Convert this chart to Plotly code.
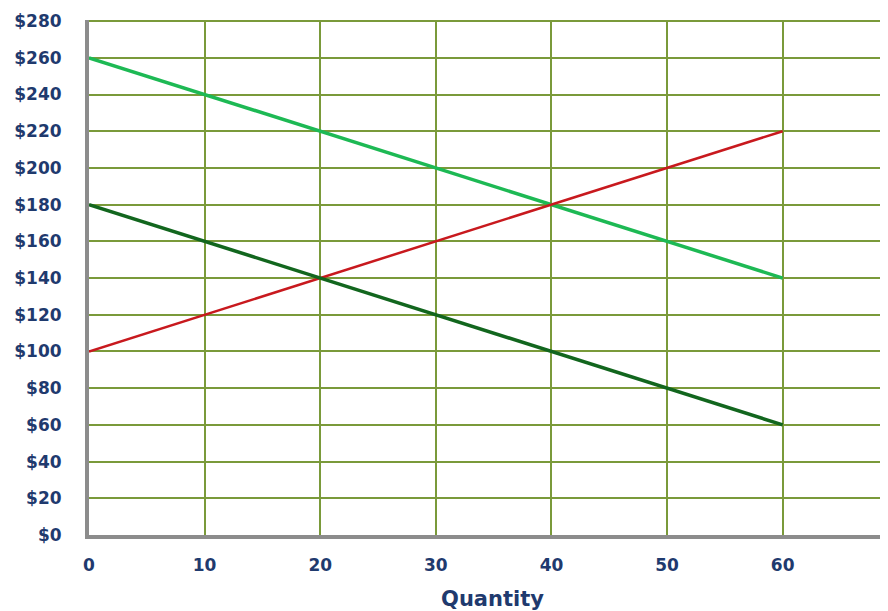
import plotly.graph_objects as go

quantity = [0, 60]
light_green = [260, 140]
red = [100, 220]
dark_green = [180, 60]

x_ticks = [0, 10, 20, 30, 40, 50, 60]
y_ticks = list(range(0, 281, 20))
y_labels = [f"${v}" for v in y_ticks]

navy = "#1F3A6E"
grid = "#7A9A3A"

fig = go.Figure()
fig.add_trace(go.Scatter(x=quantity, y=light_green, mode="lines",
                         line=dict(color="#1DB954", width=3.5), showlegend=False))
fig.add_trace(go.Scatter(x=quantity, y=red, mode="lines",
                         line=dict(color="#C8191E", width=2.5), showlegend=False))
fig.add_trace(go.Scatter(x=quantity, y=dark_green, mode="lines",
                         line=dict(color="#12661E", width=3.5), showlegend=False))

fig.update_layout(
    width=888, height=603,
    margin=dict(l=81, r=0, t=12, b=76),
    paper_bgcolor="white", plot_bgcolor="white",
    xaxis=dict(range=[0, 69.8], tickvals=x_ticks, ticktext=[str(v) for v in x_ticks],
               automargin=False,
               showgrid=True, gridcolor=grid, gridwidth=2,
               showline=True, linecolor="#8C8C8C", linewidth=4,
               ticks="outside", ticklen=12, tickcolor="rgba(0,0,0,0)",
               tickfont=dict(family="DejaVu Sans", size=17, color=navy, weight="bold"),
               zeroline=False,
               title=dict(text="Quantity", standoff=20,
                          font=dict(family="DejaVu Sans", size=21, color=navy, weight="bold"))),
    yaxis=dict(range=[0, 280.6], tickvals=y_ticks, ticktext=y_labels,
               automargin=False,
               showgrid=True, gridcolor=grid, gridwidth=2,
               showline=True, linecolor="#8C8C8C", linewidth=4,
               ticks="outside", ticklen=20, tickcolor="rgba(0,0,0,0)",
               tickfont=dict(family="DejaVu Sans", size=17, color=navy, weight="bold"),
               zeroline=False),
)

fig.write_html("out.html")
